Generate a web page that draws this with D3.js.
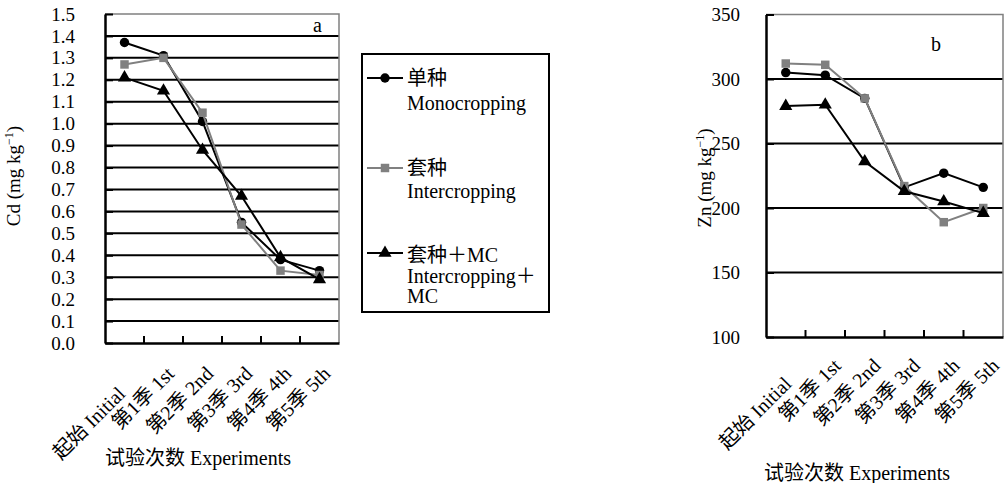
<!DOCTYPE html>
<html><head><meta charset="utf-8">
<script src="https://cdn.jsdelivr.net/npm/d3@7"></script>
<style>
body{margin:0;background:#fff;}
svg{display:block;}
</style></head>
<body><svg id="c" width="1004" height="483"></svg>
<script>
const categories = ["起始 Initial","第1季 1st","第2季 2nd","第3季 3rd","第4季 4th","第5季 5th"];
const cdMono  = [1.37,1.31,1.01,0.55,0.38,0.33];
const cdInter = [1.27,1.30,1.05,0.54,0.33,0.31];
const cdMC    = [1.21,1.15,0.88,0.67,0.39,0.29];
const znMono  = [305,303,285,216,227,216];
const znInter = [312,311,285,217,189,200];
const znMC    = [279,280,236,213,205,196];
const cdTicks = [0,0.1,0.2,0.3,0.4,0.5,0.6,0.7,0.8,0.9,1.0,1.1,1.2,1.3,1.4,1.5];
const znTicks = [100,150,200,250,300,350];
const seriesNames = [["单种","Monocropping"],["套种","Intercropping"],["套种＋MC","Intercropping＋","MC"]];

const FONT = "'Liberation Serif','DejaVu Serif','Noto Sans CJK SC',serif";
const svg = d3.select("#c");
const GRAY = "#808080";
const styles = [
  {stroke:"#000", fill:"#000", shape:d3.symbolCircle, size:70},
  {stroke:GRAY, fill:GRAY, shape:d3.symbolSquare, size:72},
  {stroke:"#000", fill:"#000", shape:d3.symbolTriangle, size:75}
];
function txt(sel){ return sel.style("font-family",FONT).attr("fill","#000"); }

function panel(cfg){
  const g = svg.append("g");
  const x = d3.scaleBand().domain(categories).range([cfg.left,cfg.right]);
  const y = d3.scaleLinear().domain(cfg.domain).range([cfg.bottom,cfg.top]);
  g.selectAll(".grid").data(cfg.grid).join("line")
    .attr("x1",cfg.left).attr("x2",cfg.right)
    .attr("y1",d=>y(d)).attr("y2",d=>y(d))
    .attr("stroke","#000").attr("stroke-width",2);
  g.append("path").attr("d",`M${cfg.left},${cfg.top}H${cfg.right}V${cfg.bottom}`)
    .attr("fill","none").attr("stroke",GRAY).attr("stroke-width",1.5);
  const ya = d3.axisLeft(y).tickValues(cfg.ticks).tickSizeInner(-8).tickSizeOuter(0).tickPadding(30)
    .tickFormat(cfg.fmt);
  const yg = g.append("g").attr("transform",`translate(${cfg.left},0)`).call(ya);
  yg.select(".domain").attr("stroke","#000").attr("stroke-width",2.5);
  yg.selectAll(".tick line").attr("stroke","#000").attr("stroke-width",2);
  txt(yg.selectAll(".tick text").attr("font-size",cfg.tickFont).attr("dx",cfg.tickDx));
  const xa = d3.axisBottom(x).tickSizeInner(0).tickSizeOuter(0).tickFormat("");
  const xg = g.append("g").attr("transform",`translate(0,${cfg.bottom})`).call(xa);
  xg.select(".domain").attr("stroke","#000").attr("stroke-width",2.5);
  g.selectAll(".xt").data(categories.slice(1)).join("line")
    .attr("x1",d=>x(d)).attr("x2",d=>x(d))
    .attr("y1",cfg.bottom).attr("y2",cfg.bottom-7)
    .attr("stroke","#000").attr("stroke-width",2);
  txt(g.selectAll(".xl").data(categories).join("text")
    .attr("transform",(d,i)=>`translate(${x(d)+x.bandwidth()/2+cfg.lx+(i===0?cfg.firstDx:0)},${cfg.bottom+cfg.ly+(i===0?cfg.firstDy:0)}) rotate(-45)`)
    .attr("text-anchor","end").attr("font-size",20).text(d=>d));
  cfg.series.forEach((vals,i)=>{
    const st = styles[i];
    const line = d3.line().x((d,j)=>x(categories[j])+x.bandwidth()/2).y(d=>y(d));
    g.append("path").datum(vals).attr("d",line).attr("fill","none")
      .attr("stroke",st.stroke).attr("stroke-width",2);
    g.selectAll(".m"+i).data(vals).join("path")
      .attr("transform",(d,j)=>`translate(${x(categories[j])+x.bandwidth()/2},${y(d)})`)
      .attr("d",d3.symbol().type(st.shape).size(st.size)).attr("fill",st.fill);
  });
  txt(g.append("text").attr("x",cfg.letter[0]).attr("y",cfg.letter[1]).attr("font-size",20).text(cfg.letterText));
  const yt = txt(g.append("text").attr("transform",`translate(${cfg.yt[0]},${cfg.yt[1]}) rotate(-90)`)
    .attr("text-anchor","middle").attr("font-size",19));
  yt.append("tspan").text(cfg.ytitle+" (mg kg");
  yt.append("tspan").attr("font-size",12).attr("dy",-7).text("−1");
  yt.append("tspan").attr("dy",7).text(")");
  txt(g.append("text").attr("x",cfg.xt[0]).attr("y",cfg.xt[1]).attr("text-anchor","middle")
    .attr("font-size",20).text("试验次数 Experiments"));
}

panel({left:105,right:339,top:14,bottom:343,domain:[0,1.5],ticks:cdTicks,grid:cdTicks.slice(1,15),
  fmt:d3.format(".1f"),tickFont:19,tickDx:0,lx:12,ly:32,firstDx:-10,firstDy:20,series:[cdMono,cdInter,cdMC],
  letter:[313,32],letterText:"a",yt:[20,176],ytitle:"Cd",xt:[198,465]});
panel({left:766,right:1003,top:14.5,bottom:337,domain:[100,350],ticks:znTicks,grid:[150,200,250,300],
  fmt:d3.format("d"),tickFont:19,tickDx:4,lx:17,ly:30,firstDx:-10,firstDy:18,series:[znMono,znInter,znMC],
  letter:[931,51],letterText:"b",yt:[711,178],ytitle:"Zn",xt:[857,480]});

const lg = svg.append("g");
lg.append("rect").attr("x",362).attr("y",54).attr("width",187).attr("height",258)
  .attr("fill","#fff").attr("stroke","#000").attr("stroke-width",2);
const legY = [78,168,253];
const textY = [[85,110],[175,198],[262,283,303]];
seriesNames.forEach((names,i)=>{
  const st = styles[i];
  lg.append("line").attr("x1",367).attr("x2",403).attr("y1",legY[i]).attr("y2",legY[i])
    .attr("stroke",st.stroke).attr("stroke-width",2);
  lg.append("path").attr("transform",`translate(385,${legY[i]})`)
    .attr("d",d3.symbol().type(st.shape).size(st.size)).attr("fill",st.fill);
  names.forEach((t,k)=>{
    txt(lg.append("text").attr("x",407).attr("y",textY[i][k]).attr("font-size",20).text(t));
  });
});
</script></body></html>
